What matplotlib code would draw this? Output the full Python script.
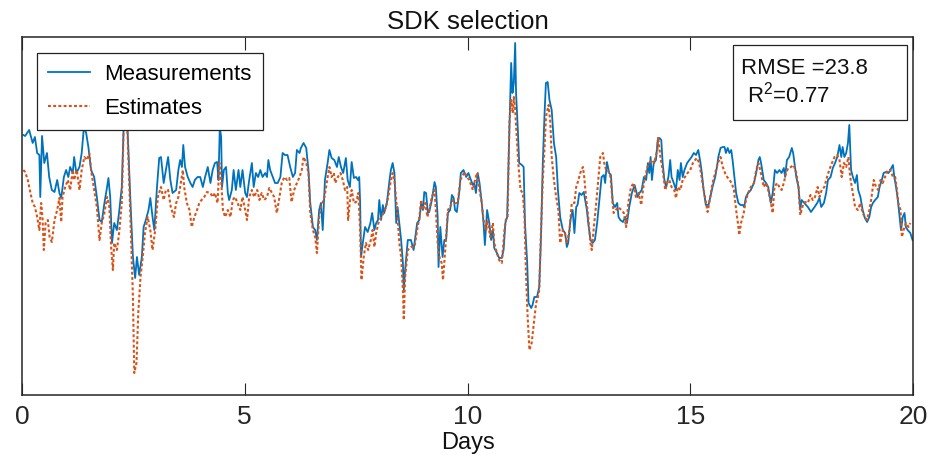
import numpy as np
import matplotlib
matplotlib.use("Agg")
import matplotlib.pyplot as plt
from matplotlib.patches import Rectangle

plt.rcParams['font.family'] = ['Liberation Sans', 'DejaVu Sans']
plt.rcParams['mathtext.default'] = 'regular'

# measured series (days, arbitrary units)
meas_days = [
    0.03, 0.07, 0.16, 0.24, 0.29, 0.34, 0.39, 0.41, 0.45, 0.50, 0.56, 0.61, 0.67, 0.73, 0.79, 0.84, 0.88, 0.94, 0.99,
    1.04, 1.08, 1.14, 1.17, 1.22, 1.29, 1.34, 1.39, 1.44, 1.49, 1.55, 1.62, 1.68, 1.74, 1.79, 1.85, 1.91, 1.94, 1.98,
    2.02, 2.07, 2.13, 2.18, 2.24, 2.28, 2.31, 2.37, 2.43, 2.49, 2.54, 2.58, 2.63, 2.69, 2.73, 2.78, 2.84, 2.88, 2.93, 2.97,
    3.03, 3.08, 3.12, 3.18, 3.23, 3.28, 3.33, 3.38, 3.46, 3.51, 3.55, 3.59, 3.62, 3.66, 3.72, 3.78, 3.83, 3.88, 3.94,
    4.00, 4.06, 4.11, 4.17, 4.23, 4.28, 4.33, 4.38, 4.41, 4.44, 4.47, 4.49, 4.53, 4.58, 4.62, 4.65, 4.71, 4.75, 4.80, 4.86, 4.90, 4.95,
    5.01, 5.05, 5.10, 5.16, 5.20, 5.25, 5.30, 5.35, 5.40, 5.46, 5.50, 5.53, 5.57, 5.63, 5.68, 5.74, 5.80, 5.85, 5.90, 5.96,
    6.02, 6.08, 6.13, 6.17, 6.23, 6.26, 6.32, 6.38, 6.43, 6.47, 6.53, 6.58, 6.62, 6.67, 6.71, 6.75, 6.80, 6.86, 6.90, 6.95,
    7.01, 7.07, 7.11, 7.16, 7.21, 7.27, 7.31, 7.36, 7.40, 7.45, 7.50, 7.54, 7.57, 7.59, 7.61, 7.65, 7.70, 7.76, 7.82, 7.86, 7.91, 7.95, 7.99,
    8.02, 8.06, 8.10, 8.13, 8.19, 8.25, 8.28, 8.32, 8.36, 8.40, 8.43, 8.47, 8.51, 8.55, 8.57, 8.60, 8.66, 8.73, 8.79, 8.87, 8.92, 8.96,
    9.00, 9.03, 9.07, 9.11, 9.14, 9.20, 9.26, 9.29, 9.33, 9.35, 9.39, 9.44, 9.48, 9.52, 9.56, 9.61, 9.65, 9.69, 9.72, 9.76, 9.82, 9.85, 9.91, 9.97,
    10.02, 10.06, 10.12, 10.15, 10.19, 10.23, 10.27, 10.32, 10.36, 10.39, 10.44, 10.49, 10.53, 10.57, 10.60, 10.66, 10.71, 10.77, 10.81, 10.85, 10.89, 10.92, 10.95, 10.98,
    11.01, 11.04, 11.07, 11.09, 11.13, 11.16, 11.22, 11.26, 11.29, 11.34, 11.37, 11.43, 11.46, 11.50, 11.56, 11.61, 11.65, 11.69, 11.73, 11.76, 11.80, 11.84, 11.89, 11.94, 11.99,
    12.03, 12.08, 12.14, 12.19, 12.23, 12.26, 12.31, 12.36, 12.40, 12.44, 12.47, 12.51, 12.56, 12.61, 12.64, 12.68, 12.71, 12.76, 12.81, 12.86, 12.91, 12.96,
    13.01, 13.06, 13.09, 13.13, 13.18, 13.22, 13.26, 13.31, 13.36, 13.39, 13.43, 13.49, 13.54, 13.58, 13.63, 13.69, 13.75, 13.78, 13.82, 13.86, 13.91, 13.96,
    14.01, 14.05, 14.08, 14.11, 14.14, 14.18, 14.23, 14.27, 14.31, 14.35, 14.38, 14.42, 14.46, 14.51, 14.55, 14.58, 14.63, 14.68, 14.72, 14.76, 14.79, 14.83, 14.87, 14.93, 14.98,
    15.03, 15.08, 15.13, 15.18, 15.23, 15.26, 15.30, 15.35, 15.41, 15.45, 15.50, 15.56, 15.60, 15.63, 15.68, 15.73, 15.77, 15.80, 15.84, 15.88, 15.92, 15.95, 15.99,
    16.03, 16.08, 16.13, 16.18, 16.21, 16.25, 16.30, 16.36, 16.43, 16.48, 16.53, 16.56, 16.59, 16.65, 16.70, 16.75, 16.81, 16.85, 16.90, 16.95,
    17.00, 17.05, 17.10, 17.13, 17.17, 17.22, 17.28, 17.31, 17.34, 17.38, 17.43, 17.47, 17.50, 17.56, 17.64, 17.71, 17.79, 17.85, 17.90, 17.94,
    18.00, 18.05, 18.09, 18.15, 18.20, 18.25, 18.30, 18.35, 18.39, 18.42, 18.46, 18.50, 18.54, 18.57, 18.61, 18.65, 18.70, 18.74, 18.77, 18.82, 18.87, 18.92, 18.97,
    19.02, 19.06, 19.10, 19.15, 19.21, 19.25, 19.30, 19.34, 19.39, 19.45, 19.49, 19.55, 19.58, 19.62, 19.66, 19.69, 19.73, 19.77, 19.81, 19.84, 19.88, 19.94, 19.99,
]
meas_vals = [
    260, 259, 265, 252, 258, 242, 240, 198, 259, 232, 242, 218, 205, 203, 215, 202, 197, 218, 225,
    218, 228, 222, 238, 222, 228, 242, 268, 262, 248, 225, 218, 198, 175, 173, 192, 208, 217, 198,
    152, 172, 165, 183, 208, 265, 300, 265, 198, 138, 117, 138, 120, 138, 168, 175, 185, 197, 178, 165,
    208, 237, 238, 212, 225, 238, 215, 202, 205, 225, 235, 228, 250, 228, 218, 212, 208, 215, 218,
    218, 208, 218, 228, 212, 225, 232, 233, 215, 268, 258, 208, 225, 228, 202, 195, 205, 225, 205, 225, 208, 225,
    202, 198, 215, 232, 208, 222, 218, 225, 218, 222, 218, 235, 225, 218, 212, 212, 218, 242, 240, 240,
    228, 218, 222, 245, 242, 247, 252, 247, 225, 192, 168, 165, 155, 185, 192, 165, 215, 232, 245, 237,
    235, 228, 238, 228, 222, 237, 215, 208, 233, 217, 218, 215, 218, 192, 138, 152, 168, 163, 172, 182, 165, 172, 175,
    195, 175, 190, 182, 192, 215, 225, 232, 222, 172, 188, 172, 155, 132, 105, 125, 155, 155, 145, 172, 175, 192,
    185, 203, 202, 182, 183, 195, 213, 208, 178, 128, 168, 138, 155, 155, 182, 185, 200, 197, 185, 183, 205, 222, 225, 218,
    222, 217, 210, 212, 202, 222, 212, 192, 172, 150, 185, 172, 155, 165, 147, 142, 137, 137, 145, 172, 178, 232, 282, 332,
    302, 312, 352, 302, 265, 232, 230, 228, 172, 132, 92, 87, 90, 98, 98, 108, 158, 232, 282, 312, 313, 295, 285, 252, 238,
    205, 178, 165, 162, 148, 152, 175, 185, 162, 188, 190, 202, 200, 203, 195, 185, 172, 155, 152, 155, 172, 195,
    218, 220, 212, 233, 222, 220, 192, 188, 192, 178, 175, 173, 178, 172, 188, 202, 210, 205, 198, 202, 205, 218,
    215, 232, 222, 238, 215, 232, 235, 255, 257, 255, 232, 215, 208, 218, 235, 218, 212, 205, 225, 215, 232, 218, 225, 232, 235,
    238, 242, 240, 245, 232, 222, 205, 190, 190, 198, 208, 218, 228, 238, 247, 248, 248, 242, 247, 242, 245, 235, 218,
    202, 192, 190, 190, 188, 198, 202, 205, 212, 222, 235, 238, 232, 215, 212, 208, 192, 202, 225, 222,
    225, 222, 227, 218, 235, 238, 247, 242, 232, 218, 208, 185, 195, 192, 188, 183, 188, 192, 197, 188,
    192, 202, 215, 218, 227, 232, 238, 250, 238, 248, 238, 242, 252, 270, 225, 218, 212, 220, 205, 198, 185, 177, 173,
    178, 188, 192, 195, 198, 208, 215, 222, 223, 222, 225, 230, 218, 208, 195, 182, 165, 178, 182, 168, 165, 162, 155,
]

# estimated series
est_days = [
    0.03, 0.07, 0.13, 0.19, 0.24, 0.29, 0.34, 0.39, 0.43, 0.46, 0.49, 0.53, 0.58, 0.62, 0.67, 0.73, 0.79, 0.84, 0.88, 0.91, 0.97,
    1.03, 1.08, 1.14, 1.17, 1.23, 1.29, 1.34, 1.40, 1.46, 1.51, 1.56, 1.62, 1.68, 1.74, 1.79, 1.85, 1.91, 1.96,
    2.00, 2.04, 2.07, 2.13, 2.18, 2.24, 2.28, 2.31, 2.37, 2.43, 2.49, 2.52, 2.57, 2.61, 2.66, 2.71, 2.76, 2.82, 2.88, 2.93, 2.99,
    3.05, 3.12, 3.18, 3.23, 3.28, 3.34, 3.41, 3.46, 3.51, 3.55, 3.61, 3.64, 3.70, 3.76, 3.81, 3.87, 3.93, 3.98,
    4.03, 4.09, 4.15, 4.23, 4.28, 4.33, 4.39, 4.43, 4.47, 4.51, 4.56, 4.62, 4.68, 4.73, 4.78, 4.84, 4.90, 4.95,
    5.01, 5.05, 5.10, 5.16, 5.21, 5.28, 5.33, 5.38, 5.44, 5.50, 5.55, 5.61, 5.66, 5.72, 5.78, 5.83, 5.89, 5.95,
    6.00, 6.05, 6.11, 6.17, 6.23, 6.28, 6.32, 6.38, 6.43, 6.47, 6.53, 6.58, 6.62, 6.67, 6.71, 6.79, 6.85, 6.90, 6.95,
    7.00, 7.03, 7.09, 7.15, 7.20, 7.25, 7.30, 7.32, 7.37, 7.40, 7.45, 7.50, 7.55, 7.59, 7.62, 7.67, 7.72, 7.77, 7.83, 7.87, 7.91, 7.95,
    8.00, 8.06, 8.12, 8.17, 8.22, 8.27, 8.32, 8.36, 8.40, 8.43, 8.47, 8.51, 8.55, 8.57, 8.60, 8.66, 8.73, 8.81, 8.87, 8.92, 8.96,
    9.00, 9.05, 9.10, 9.14, 9.20, 9.26, 9.29, 9.33, 9.37, 9.42, 9.45, 9.50, 9.56, 9.61, 9.67, 9.72, 9.78, 9.84, 9.93, 9.99,
    10.04, 10.12, 10.17, 10.21, 10.27, 10.32, 10.36, 10.42, 10.45, 10.51, 10.57, 10.60, 10.66, 10.71, 10.77, 10.83, 10.86, 10.90, 10.94, 10.98,
    11.02, 11.04, 11.07, 11.11, 11.14, 11.19, 11.24, 11.28, 11.31, 11.35, 11.39, 11.44, 11.49, 11.54, 11.58, 11.61, 11.65, 11.69, 11.73, 11.76, 11.82, 11.86, 11.89, 11.94, 11.99,
    12.04, 12.08, 12.14, 12.19, 12.23, 12.29, 12.34, 12.40, 12.44, 12.49, 12.53, 12.59, 12.62, 12.66, 12.71, 12.76, 12.79, 12.83, 12.89, 12.94, 12.98,
    13.04, 13.07, 13.11, 13.15, 13.21, 13.28, 13.33, 13.39, 13.45, 13.51, 13.56, 13.61, 13.67, 13.73, 13.78, 13.84, 13.90, 13.93, 13.97,
    14.04, 14.08, 14.14, 14.19, 14.26, 14.28, 14.33, 14.38, 14.44, 14.48, 14.53, 14.58, 14.64, 14.68, 14.72, 14.78, 14.83, 14.88, 14.94,
    15.00, 15.06, 15.11, 15.15, 15.20, 15.24, 15.29, 15.33, 15.39, 15.45, 15.50, 15.56, 15.62, 15.68, 15.73, 15.78, 15.83, 15.88, 15.93, 15.98,
    16.03, 16.07, 16.10, 16.14, 16.20, 16.25, 16.30, 16.36, 16.43, 16.48, 16.53, 16.57, 16.65, 16.70, 16.75, 16.81, 16.85, 16.89, 16.95,
    17.00, 17.05, 17.10, 17.15, 17.20, 17.26, 17.32, 17.38, 17.43, 17.47, 17.53, 17.58, 17.64, 17.70, 17.75, 17.80, 17.86, 17.90, 17.95,
    18.01, 18.07, 18.12, 18.18, 18.24, 18.30, 18.35, 18.40, 18.45, 18.50, 18.55, 18.59, 18.65, 18.70, 18.76, 18.82, 18.87, 18.92, 18.97,
    19.02, 19.06, 19.12, 19.17, 19.22, 19.27, 19.32, 19.37, 19.43, 19.49, 19.55, 19.60, 19.64, 19.67, 19.72, 19.75, 19.79, 19.84, 19.90, 19.94,
]
est_vals = [
    225, 223, 215, 202, 192, 188, 178, 165, 192, 178, 145, 172, 175, 158, 153, 175, 185, 197, 173, 198, 208,
    215, 205, 225, 215, 225, 205, 225, 238, 235, 242, 222, 205, 188, 155, 172, 182, 198, 188,
    148, 125, 152, 145, 162, 192, 265, 295, 260, 182, 98, 22, 32, 82, 118, 138, 162, 178, 165, 145, 165,
    198, 208, 195, 205, 205, 188, 178, 192, 198, 208, 225, 208, 192, 185, 168, 178, 185, 192,
    195, 198, 203, 202, 198, 202, 192, 232, 215, 185, 178, 185, 178, 195, 198, 192, 185, 198,
    185, 175, 198, 205, 198, 205, 195, 202, 195, 198, 207, 202, 198, 182, 198, 212, 218, 215,
    217, 193, 205, 212, 218, 225, 238, 232, 222, 182, 165, 158, 142, 178, 188, 198, 215, 228, 218,
    222, 212, 218, 222, 215, 205, 208, 175, 198, 205, 192, 193, 202, 165, 115, 138, 152, 145, 155, 165, 148, 162,
    172, 178, 182, 188, 198, 212, 222, 215, 195, 178, 152, 138, 105, 75, 118, 145, 148, 148, 165, 178, 195,
    185, 192, 178, 185, 198, 205, 185, 152, 138, 132, 115, 145, 185, 188, 195, 192, 192, 215, 223, 218,
    215, 205, 215, 222, 205, 192, 175, 165, 175, 158, 172, 152, 142, 135, 132, 165, 175, 178, 272, 295,
    282, 298, 285, 255, 232, 205, 202, 178, 125, 78, 45, 52, 72, 92, 98, 105, 165, 215, 248, 278, 290, 272, 238, 215, 198,
    185, 152, 165, 162, 152, 165, 192, 192, 208, 215, 222, 228, 218, 198, 178, 152, 145, 165, 192, 218, 238,
    242, 232, 225, 225, 218, 182, 185, 188, 185, 182, 168, 192, 208, 212, 198, 202, 190, 202, 215,
    228, 232, 235, 232, 245, 258, 238, 225, 205, 212, 215, 208, 205, 197, 208, 205, 215, 218, 222,
    225, 232, 235, 237, 232, 222, 208, 198, 183, 198, 212, 222, 232, 238, 228, 222, 218, 215, 212, 205,
    185, 172, 160, 172, 182, 195, 202, 208, 212, 225, 232, 225, 208, 212, 205, 192, 182, 208, 212,
    208, 205, 212, 222, 227, 228, 230, 222, 208, 180, 190, 193, 192, 200, 195, 198, 208, 198, 205,
    208, 218, 225, 232, 238, 240, 235, 218, 232, 228, 238, 218, 202, 188, 185, 192, 182, 178, 175,
    185, 195, 215, 208, 205, 215, 212, 218, 225, 225, 218, 218, 205, 192, 185, 158, 165, 172, 168, 172,
]

x_ticks = [0, 5, 10, 15, 20]
rmse = 23.8
r2 = 0.77

fig = plt.figure(figsize=(9.32, 4.65), dpi=100)
ax = fig.add_axes([22 / 932, 70 / 465, 891 / 932, 358 / 465])

ax.plot(meas_days, meas_vals, color='#0072BD', lw=1.3, label='Measurements')
ax.plot(est_days, est_vals, color='#D95319', lw=1.5, ls=(0, (1.4, 1.1)), label='Estimates')

ax.set_xlim(0, 20)
ax.set_ylim(0, 358)
ax.set_xticks(x_ticks)
ax.set_yticks([])
ax.tick_params(axis='x', direction='in', length=9, width=0.8, top=True,
               labelsize=19, pad=7, colors='#262626')
for s in ax.spines.values():
    s.set_linewidth(1.1)
    s.set_color('#262626')

ax.set_title('SDK selection', fontsize=18.5, pad=6, color='#111111')
ax.set_xlabel('Days', fontsize=17, labelpad=2, color='#111111')

leg = ax.legend(loc='upper left', bbox_to_anchor=(0.0165, 0.956), borderaxespad=0,
                fontsize=16, fancybox=False, framealpha=1, edgecolor='#222222',
                handlelength=1.9, handletextpad=0.65, labelspacing=0.6, borderpad=0.5)
leg.get_frame().set_linewidth(0.9)

ax.add_patch(Rectangle((0.7977, 0.7682), 0.1952, 0.2095, transform=ax.transAxes,
                       fc='white', ec='#222222', lw=0.9, zorder=5))
ax.text(0.8066, 0.912, 'RMSE =%.1f' % rmse, transform=ax.transAxes, fontsize=16,
        va='center', ha='left', zorder=6, color='#111111')
ax.text(0.8066, 0.840, ' R$^2$=%.2f' % r2, transform=ax.transAxes, fontsize=16,
        va='center', ha='left', zorder=6, color='#111111')

fig.savefig('out.png', dpi=100)
